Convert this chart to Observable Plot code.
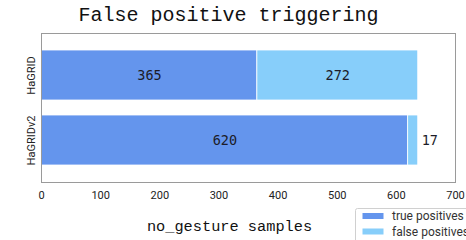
<!DOCTYPE html>
<html>
<head>
<meta charset="utf-8">
<script src="https://cdn.jsdelivr.net/npm/d3@7"></script>
<script src="https://cdn.jsdelivr.net/npm/@observablehq/plot@0.6"></script>
<style>
  html, body { margin: 0; padding: 0; background: #fff; }
  #chart { width: 466px; height: 240px; overflow: hidden; }
</style>
</head>
<body>
<div id="chart"></div>
<script>
const datasets = ["HaGRID", "HaGRIDv2"];
const seriesNames = ["true positives", "false positives"];
const truePositives = [365, 620];
const falsePositives = [272, 17];
const xTicks = [0, 100, 200, 300, 400, 500, 600, 700];
const colors = ["#6495ED", "#87CEFA"];
const title = "False positive triggering";
const xLabel = "no_gesture samples";

const rows = [];
datasets.forEach((d, i) => {
  rows.push({dataset: d, type: seriesNames[0], value: truePositives[i]});
  rows.push({dataset: d, type: seriesNames[1], value: falsePositives[i]});
});

const mono = "'DejaVu Sans Mono', monospace";
const titleFont = "'Liberation Mono', 'Courier New', monospace";

const plot = Plot.plot({
  width: 466,
  height: 240,
  marginLeft: 41,
  marginRight: 11,
  marginTop: 33,
  marginBottom: 58,
  style: {fontFamily: "Roboto, sans-serif", fontSize: "11px", color: "#222", background: "#fff"},
  x: {domain: [0, 700], ticks: xTicks, label: null},
  y: {domain: datasets, paddingInner: 0.232, paddingOuter: 0.245, axis: null},
  color: {domain: seriesNames, range: colors},
  marks: [
    Plot.barX(rows, {x: "value", y: "dataset", fill: "type", stroke: "white", strokeWidth: 0.8}),
    Plot.frame({stroke: "#9a9a9a", strokeWidth: 1}),
    Plot.axisX({ticks: xTicks, tickSize: 0, tickPadding: 9, fontSize: 11, fill: "#222", label: null}),
    Plot.text(rows, Plot.stackX({
      x: "value", y: "dataset",
      text: d => d.value >= 50 ? String(d.value) : null,
      fontFamily: mono, fontSize: 13.5, fill: "#1c1c28"
    })),
    Plot.text(rows, Plot.stackX2({
      x: "value", y: "dataset",
      text: d => d.value < 50 ? String(d.value) : null,
      textAnchor: "start", dx: 3.5,
      fontFamily: mono, fontSize: 13.5, fill: "#1c1c28"
    })),
    Plot.text(datasets, {
      y: d => d, text: d => d, frameAnchor: "left", rotate: -90,
      dx: -10.5, textAnchor: "middle", lineAnchor: "middle",
      fontSize: 11, fill: "#222"
    }),
    Plot.text([title], {
      text: d => d, frameAnchor: "top", dx: -20, dy: -19, lineAnchor: "middle",
      fontFamily: titleFont, fontSize: 20, fill: "#111"
    }),
    Plot.text([xLabel], {
      text: d => d, frameAnchor: "bottom", dx: -19, dy: 44, lineAnchor: "middle",
      fontFamily: titleFont, fontSize: 15.3, fill: "#111"
    })
  ]
});

document.getElementById("chart").appendChild(plot);

// legend (bottom right, partly clipped like the reference)
const svg = d3.select(plot);
const lg = svg.append("g")
  .attr("font-family", "Roboto, sans-serif")
  .attr("font-size", 12)
  .attr("text-anchor", "start");
lg.append("rect").attr("x", 355.5).attr("y", 208.5).attr("width", 130).attr("height", 40)
  .attr("rx", 2).attr("fill", "#fff").attr("stroke", "#d0d0d0");
seriesNames.forEach((name, i) => {
  const cy = 216 + i * 15.5;
  lg.append("rect").attr("x", 362.5).attr("y", cy - 3).attr("width", 21).attr("height", 6).attr("fill", colors[i]);
  lg.append("text").attr("x", 392).attr("y", cy).attr("dy", "0.35em")
    .attr("text-anchor", "start").attr("fill", "#333").text(name);
});
</script>
</body>
</html>
